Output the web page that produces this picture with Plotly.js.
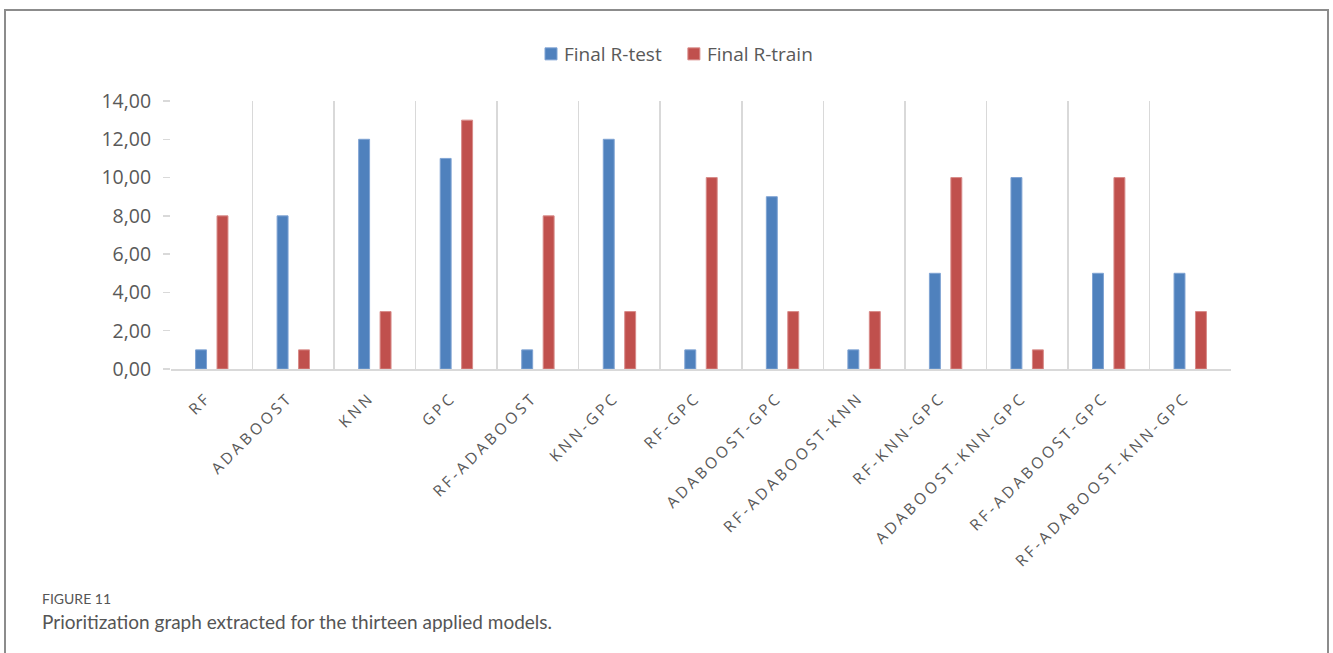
<!DOCTYPE html>
<html>
<head>
<meta charset="utf-8">
<script src="https://cdn.plot.ly/plotly-3.0.1.min.js"></script>
<style>
html,body{margin:0;padding:0;background:#fff;}
#chart{width:1333px;height:653px;}
.xtick text{letter-spacing:3.2px;}
.legend .legendtext{transform:translate(-7px,0);}
</style>
</head>
<body>
<div id="chart"></div>
<script>
const models = ["RF","ADABOOST","KNN","GPC","RF-ADABOOST","KNN-GPC","RF-GPC","ADABOOST-GPC","RF-ADABOOST-KNN","RF-KNN-GPC","ADABOOST-KNN-GPC","RF-ADABOOST-GPC","RF-ADABOOST-KNN-GPC"];
const finalRTest  = [1, 8, 12, 11, 1, 12, 1, 9, 1, 5, 10, 5, 5];
const finalRTrain = [8, 1, 3, 13, 8, 3, 10, 3, 3, 10, 1, 10, 3];
const seriesNames = ["Final R-test", "Final R-train"];
const figureLabel = "FIGURE 11";
const captionText = "Prioritization graph extracted for the thirteen applied models.";

// pixel -> paper helpers (plot area: x 171..1231, y 101..369)
const L = 171, R = 1231, T = 101, B = 369;
const px = x => (x - L) / (R - L);
const py = y => (B - y) / (B - T);

const textColor = "#595959";
const gridColor = "#d9d9d9";

const traces = [
  {type:"bar", name:seriesNames[0], x:models, y:finalRTest,
   marker:{color:"#4F81BD", line:{color:"#7FA3D3", width:1}}, hoverinfo:"x+y"},
  {type:"bar", name:seriesNames[1], x:models, y:finalRTrain,
   marker:{color:"#C0504D", line:{color:"#D88B89", width:1}}, hoverinfo:"x+y"}
];

const layout = {
  width:1333, height:653,
  margin:{l:L, r:1333-R, t:T, b:653-B, pad:0},
  paper_bgcolor:"#fff", plot_bgcolor:"#fff",
  separators:",.",
  barmode:"group", bargap:0.474, bargroupgap:0.49,
  font:{family:"Open Sans, sans-serif", color:textColor},
  showlegend:true,
  legend:{orientation:"h", x:px(678), y:py(54), xanchor:"center", yanchor:"middle",
          font:{size:19, color:textColor, family:"Open Sans, sans-serif"}, itemwidth:30, traceorder:"normal"},
  xaxis:{type:"category", tickson:"boundaries", showgrid:true, gridcolor:gridColor, gridwidth:1.5,
         showline:true, linecolor:gridColor, linewidth:1.5, ticks:"", tickangle:-45,
         ticklabelstandoff:12, ticklabelshift:-5,
         tickfont:{size:15.5, color:textColor, family:"Open Sans, sans-serif"}, fixedrange:true},
  yaxis:{range:[0,14], dtick:2, tick0:0, tickformat:".2f", showgrid:false, zeroline:false,
         showline:false, ticks:"outside", ticklen:7, tickcolor:gridColor, tickwidth:1.5,
         ticklabelstandoff:8,
         tickfont:{size:19.5, color:textColor, family:"Open Sans, sans-serif"}, fixedrange:true},
  shapes:[
    {type:"rect", xref:"paper", yref:"paper", x0:px(5), x1:px(1328), y0:py(10), y1:py(720),
     line:{color:"#8c8c8c", width:2}, fillcolor:"rgba(0,0,0,0)", layer:"below"}
  ],
  annotations:[
    {xref:"paper", yref:"paper", x:px(40), y:py(598), xanchor:"left", yanchor:"middle",
     text:figureLabel, showarrow:false, font:{size:14, color:"#555555", family:"Lato, Open Sans, sans-serif"}},
    {xref:"paper", yref:"paper", x:px(40), y:py(621), xanchor:"left", yanchor:"middle",
     text:captionText, showarrow:false, font:{size:19, color:"#555555", family:"Lato, Open Sans, sans-serif"}}
  ]
};

Plotly.newPlot("chart", traces, layout, {displayModeBar:false, staticPlot:true});
</script>
</body>
</html>
